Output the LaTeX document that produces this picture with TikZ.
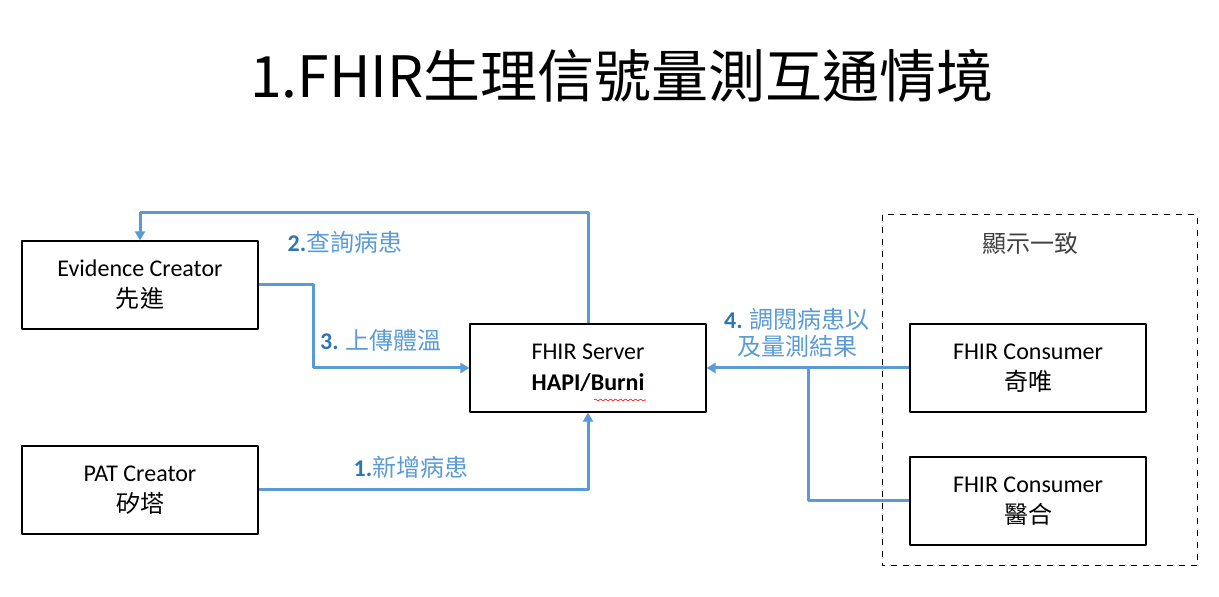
\documentclass[tikz,border=0pt]{standalone}
\usepackage{fontspec}
\setmainfont{Carlito}
\newfontfamily\cjk{Noto Sans CJK TC}
\usetikzlibrary{arrows.meta,decorations.pathmorphing}
\definecolor{flowblue}{HTML}{5B9BD5}
\definecolor{numblue}{HTML}{2E75B6}
\tikzset{
  box/.style={draw, line width=0.6pt, minimum width=118pt, minimum height=44pt, align=center, font=\fontsize{12}{15.5}\selectfont},
  flow/.style={draw=flowblue, line width=1.5pt, -{Triangle[length=4.5pt,width=5pt]}},
  flowline/.style={draw=flowblue, line width=1.5pt},
  lbl/.style={text=flowblue, font=\fontsize{12}{13.5}\selectfont, align=center}
}
\newcommand{\num}[1]{{\bfseries\color{numblue}#1}}
\begin{document}
\begin{tikzpicture}[x=0.5pt, y=-0.5pt, line join=round]
  \useasboundingbox (0,0) rectangle (1219,597);
  % title
  \node (title) at (622,76) {\fontsize{28.5}{32}\selectfont\cjk 1.FHIR生理信號量測互通情境};
  % consumer group
  \draw[dashed, line width=0.5pt] (882,215) rectangle (1197,566);
  \node (grp) at (1030,243) {\fontsize{12}{14}\selectfont\color{black!75}\cjk 顯示一致};
  % boxes
  \node[box] (ec)  at (140,285)  {Evidence Creator\\{\cjk 先進}};
  \node[box] (pat) at (140,490)  {PAT Creator\\{\cjk 矽塔}};
  \node[box] (srv) at (588,368)  {FHIR Server\\\textbf{HAPI/Burni}};
  \node[box] (c1)  at (1028,368) {FHIR Consumer\\{\cjk 奇唯}};
  \node[box] (c2)  at (1028,501) {FHIR Consumer\\{\cjk 醫合}};
  % spell-check mark
  \draw[red, line width=0.3pt, decorate, decoration={snake, amplitude=0.5pt, segment length=2.5pt}]
    (594,400) -- (646,400);
  % connectors
  \coordinate (t2) at (140,213);
  \coordinate (k3) at (313,285);
  \coordinate (j4) at (808,368);
  \draw[flow] (srv.north) |- (t2) -- (ec.north);
  \draw[flow] (ec.east) -- (k3) |- (srv.west);
  \draw[flow] (pat.east) -| (srv.south);
  \draw[flow] (c1.west) -- (srv.east);
  \draw[flowline] (c2.west) -| (j4);
  % labels
  \node[lbl] (l2) at (345,242) {\num{2.}{\cjk 查詢病患}};
  \node[lbl] (l3) at (381,340) {\num{3.} {\cjk 上傳體溫}};
  \node[lbl] (l1) at (411,467) {\num{1.}{\cjk 新增病患}};
  \node[lbl] (l4) at (797,333) {\num{4.} {\cjk 調閱病患以}\\{\cjk 及量測結果}};
\end{tikzpicture}
\end{document}
